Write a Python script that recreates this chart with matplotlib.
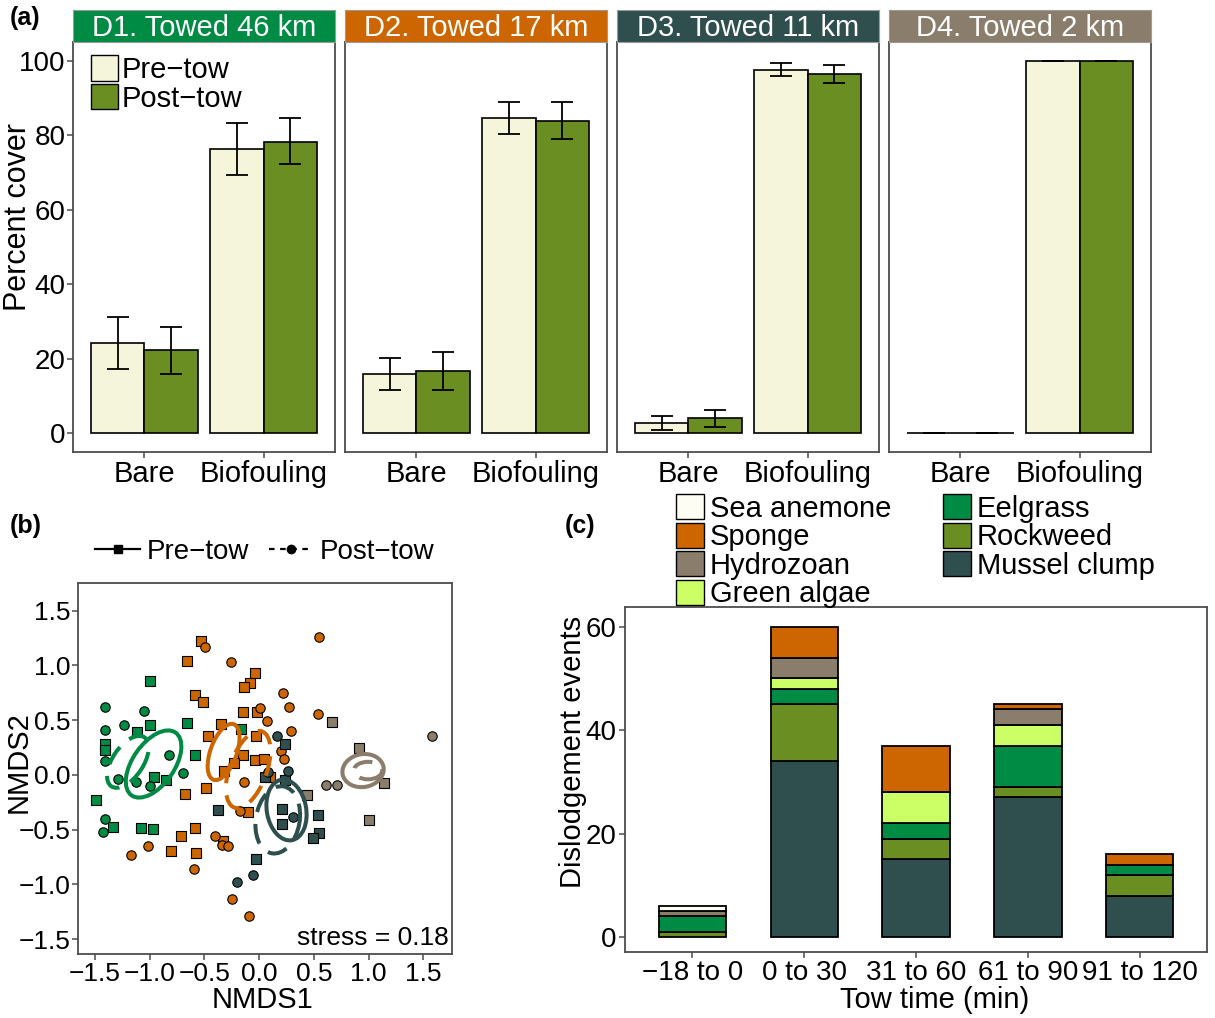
import numpy as np
import matplotlib
matplotlib.use("Agg")
import matplotlib.pyplot as plt
from matplotlib.patches import Ellipse, Patch
from matplotlib.lines import Line2D

plt.rcParams["font.family"] = ["Liberation Sans", "DejaVu Sans"]

W, H = 1215, 1018

# ---------------- (a) percent cover ----------------
sites = ["D1. Towed 46 km", "D2. Towed 17 km", "D3. Towed 11 km", "D4. Towed 2 km"]
site_cols = ["#008B45", "#CD6600", "#2F4F4F", "#8B7D6B"]
cover_cats = ["Bare", "Biofouling"]
pre_mean = [[24.3, 76.2], [16.0, 84.5], [2.7, 97.6], [0.0, 100.0]]
pre_lo = [[17.3, 69.3], [11.7, 80.3], [1.0, 96.0], [0.0, 100.0]]
pre_hi = [[31.3, 83.2], [20.3, 88.8], [4.6, 99.4], [0.0, 100.0]]
post_mean = [[22.3, 78.2], [16.7, 83.8], [4.1, 96.3], [0.0, 100.0]]
post_lo = [[16.0, 72.2], [11.7, 79.0], [1.8, 94.0], [0.0, 100.0]]
post_hi = [[28.5, 84.6], [21.7, 89.0], [6.3, 98.8], [0.0, 100.0]]

# ---------------- (b) NMDS ----------------
d1_pre_x = [-1.0, -1.12, -1.0, -0.66, -1.41, -1.41, -0.59, -0.96, -0.85, -1.49, -1.34, -1.08, -0.97, -0.17]
d1_pre_y = [0.855, 0.39, 0.455, 0.47, 0.28, 0.23, 0.18, -0.02, -0.05, -0.23, -0.475, -0.48, -0.49, 0.42]
d1_post_x = [-1.41, -1.05, -1.41, -1.24, -1.41, -0.82, -0.70, -1.29, -1.13, -0.997, -1.41, -1.43]
d1_post_y = [0.62, 0.585, 0.41, 0.455, 0.127, 0.185, 0.02, -0.04, -0.06, -0.10, -0.40, -0.525]
d2_pre_x = [-0.53, -0.66, -0.04, -0.08, -0.14, -0.585, -0.51, -0.15, -0.02, -0.35, -0.47, -0.025, -0.15,
            -0.04, 0.04, -0.23, -0.32, -0.675, -0.485, -0.10, -0.585, -0.71, -0.33, -0.81, -0.58, 0.095]
d2_pre_y = [1.227, 1.045, 0.93, 0.84, 0.80, 0.73, 0.67, 0.575, 0.575, 0.465, 0.357, 0.36, 0.18,
            0.136, 0.15, 0.106, 0.036, -0.17, -0.12, -0.34, -0.48, -0.56, -0.60, -0.69, -0.71, -0.015]
d2_post_x = [-0.495, -0.26, 0.55, 0.215, 0.27, 0.01, 0.535, 0.07, 0.295, 0.2, 0.23, -0.135, -0.175,
             -0.40, -0.34, -0.285, -1.02, -1.17, -0.60, -0.25, -0.09]
d2_post_y = [1.17, 1.03, 1.257, 0.75, 0.62, 0.615, 0.555, 0.49, 0.40, 0.22, 0.15, -0.066, -0.33,
             -0.555, -0.64, -0.65, -0.65, -0.73, -0.86, -1.135, -1.29]
d3_pre_x = [0.24, 0.05, 0.24, -0.38, 0.21, 0.21, 0.54, 0.55, 0.49, -0.03]
d3_pre_y = [0.28, -0.015, -0.045, -0.32, -0.31, -0.45, -0.37, -0.53, -0.58, -0.77]
d3_post_x = [0.165, 0.26, 0.31, 0.085, -0.20, -0.06]
d3_post_y = [0.355, 0.036, -0.385, 0.03, -0.98, -0.91]
d4_pre_x = [0.67, 0.915, 1.14, 0.435, 1.0]
d4_pre_y = [0.48, 0.25, -0.075, -0.18, -0.41]
d4_post_x = [1.58, 0.61, 0.715]
d4_post_y = [0.355, -0.09, -0.095]

# ellipse centres / axes / angles (site index, pre/post)
ell_site = [0, 0, 1, 1, 2, 2, 3, 3]
ell_dashed = [False, True, False, True, False, True, False, True]
ell_cx = [-0.965, -1.20, -0.325, -0.10, 0.25, 0.17, 0.95, 0.995]
ell_cy = [0.10, 0.12, 0.21, 0.05, -0.32, -0.41, 0.04, 0.04]
ell_w = [0.70, 0.54, 0.54, 0.74, 0.56, 0.62, 0.38, 0.26]
ell_h = [0.38, 0.28, 0.24, 0.34, 0.36, 0.40, 0.30, 0.16]
ell_ang = [55, 56, 70, 70, 100, 80, 10, 0]

# ---------------- (c) dislodgement ----------------
tow_bins = ["\u221218 to 0", "0 to 30", "31 to 60", "61 to 90", "91 to 120"]
taxa = ["Sea anemone", "Sponge", "Hydrozoan", "Green algae", "Eelgrass", "Rockweed", "Mussel clump"]
taxa_cols = ["#FDFDF3", "#CD6600", "#8B7D6B", "#CCFF66", "#008B45", "#6B8E23", "#2F4F4F"]
mussel = [0, 34, 15, 27, 8]
rockweed = [1, 11, 4, 2, 4]
eelgrass = [3, 3, 3, 8, 2]
green_algae = [0, 2, 6, 4, 0]
hydrozoan = [1, 4, 0, 3, 0]
sponge = [0, 6, 9, 1, 2]
sea_anemone = [1, 0, 0, 0, 0]

PRE_COL = "#F5F5DC"
POST_COL = "#6B8E23"
SPINE = "#4D4D4D"
FS = 21
TFS = 20


def px_axes(fig, x0, y0, x1, y1):
    return fig.add_axes([x0 / W, 1 - y1 / H, (x1 - x0) / W, (y1 - y0) / H])


def style_axes(ax, size=TFS):
    for s in ax.spines.values():
        s.set_color(SPINE)
        s.set_linewidth(1.3)
    ax.tick_params(colors=SPINE, labelcolor="black", length=4, width=1.1, labelsize=size, pad=2)


fig = plt.figure(figsize=(W / 100, H / 100), dpi=100)

# ---- panel (a)
lefts = [73, 345, 617, 889]
x = np.arange(len(cover_cats)) + 1
bw = 0.45
for i, site in enumerate(sites):
    ax = px_axes(fig, lefts[i], 42, lefts[i] + 262, 452)
    style_axes(ax)
    ax.tick_params(axis="y", pad=1.5)
    pm = np.array(pre_mean[i])
    qm = np.array(post_mean[i])
    ax.bar(x - bw / 2, pm, bw, color=PRE_COL, edgecolor="black", linewidth=1.2)
    ax.bar(x + bw / 2, qm, bw, color=POST_COL, edgecolor="black", linewidth=1.2)
    ax.errorbar(x - bw / 2, pm, yerr=[pm - np.array(pre_lo[i]), np.array(pre_hi[i]) - pm],
                fmt="none", ecolor="black", elinewidth=1.3, capsize=8, capthick=1.3)
    ax.errorbar(x + bw / 2, qm, yerr=[qm - np.array(post_lo[i]), np.array(post_hi[i]) - qm],
                fmt="none", ecolor="black", elinewidth=1.3, capsize=8, capthick=1.3)
    ax.set_xlim(0.4, 2.6)
    ax.set_ylim(-5, 105)
    ax.set_xticks(x)
    ax.set_xticklabels(cover_cats, fontsize=FS)
    ax.set_yticks([0, 20, 40, 60, 80, 100])
    if i > 0:
        ax.tick_params(axis="y", left=False, labelleft=False)
    # strip
    st = px_axes(fig, lefts[i], 10, lefts[i] + 262, 42)
    st.set_facecolor(site_cols[i])
    st.set_xticks([])
    st.set_yticks([])
    for s in st.spines.values():
        s.set_color("#9a9a9a")
        s.set_linewidth(0.8)
    st.text(0.5, 0.45, site, color="white", fontsize=FS, ha="center", va="center",
            transform=st.transAxes)
    if i == 0:
        ax.legend(handles=[Patch(facecolor=PRE_COL, edgecolor="black", label="Pre\u2212tow"),
                           Patch(facecolor=POST_COL, edgecolor="black", label="Post\u2212tow")],
                  loc="upper left", bbox_to_anchor=(0.0, 1.01), frameon=False, fontsize=FS,
                  handlelength=0.95, handleheight=0.95, handletextpad=0.1, labelspacing=0.0,
                  borderaxespad=0.2)

fig.text(18 / W, 1 - 217 / H, "Percent cover", rotation=90, fontsize=22, ha="center", va="center")
fig.text(10 / W, 1 - 18 / H, "(a)", fontsize=18, fontweight="bold", ha="left", va="center")

# ---- panel (b)
axb = px_axes(fig, 78, 583, 452, 954)
style_axes(axb, 19)
groups = [(d1_pre_x, d1_pre_y, d1_post_x, d1_post_y), (d2_pre_x, d2_pre_y, d2_post_x, d2_post_y),
          (d3_pre_x, d3_pre_y, d3_post_x, d3_post_y), (d4_pre_x, d4_pre_y, d4_post_x, d4_post_y)]
for i, (px_, py_, qx_, qy_) in enumerate(groups):
    axb.scatter(px_, py_, marker="s", s=42, c=site_cols[i], edgecolors="black", linewidths=0.8, zorder=3)
    axb.scatter(qx_, qy_, marker="o", s=46, c=site_cols[i], edgecolors="black", linewidths=0.8, zorder=3)
for k in range(len(ell_cx)):
    e = Ellipse((ell_cx[k], ell_cy[k]), ell_w[k], ell_h[k], angle=ell_ang[k], fill=False,
                edgecolor=site_cols[ell_site[k]], linewidth=2.9, zorder=4,
                linestyle=(0, (5, 3)) if ell_dashed[k] else "-")
    axb.add_patch(e)
axb.set_xlim(-1.656, 1.763)
axb.set_ylim(-1.635, 1.753)
ticks_b = [-1.5, -1.0, -0.5, 0.0, 0.5, 1.0, 1.5]
tick_lab_b = ["%.1f" % t if t >= 0 else "\u2212%.1f" % -t for t in ticks_b]
axb.set_xticks(ticks_b)
axb.set_yticks(ticks_b)
axb.set_xticklabels(tick_lab_b)
axb.set_yticklabels(tick_lab_b)
axb.tick_params(axis="y", pad=1.5)
axb.text(0.99, 0.012, "stress = 0.18", transform=axb.transAxes, ha="right", va="bottom", fontsize=19)
fig.text(19 / W, 1 - 762 / H, "NMDS2", rotation=90, fontsize=FS, ha="center", va="center")
fig.text(262 / W, 1 - 1000 / H, "NMDS1", fontsize=FS, ha="center", va="center")
fig.text(10 / W, 1 - 526 / H, "(b)", fontsize=18, fontweight="bold", ha="left", va="center")
fig.legend(handles=[Line2D([], [], color="black", lw=1.6, marker="s", markersize=6, label="Pre\u2212tow"),
                    Line2D([], [], color="black", lw=1.6, ls=(0, (2.5, 2.5)), marker="o", markersize=6,
                           label="Post\u2212tow")],
           loc="center", bbox_to_anchor=(265 / W, 1 - 552 / H), ncol=2, frameon=False, fontsize=20,
           handlelength=1.6, handletextpad=0.25, columnspacing=0.7)

# ---- panel (c)
axc = px_axes(fig, 625, 607, 1207, 952)
style_axes(axc)
xc = np.arange(len(tow_bins)) + 1
layers = [mussel, rockweed, eelgrass, green_algae, hydrozoan, sponge, sea_anemone]
layer_cols = taxa_cols[::-1]
bottom = np.zeros(len(tow_bins))
for vals, col in zip(layers, layer_cols):
    vals = np.array(vals, dtype=float)
    mask = vals > 0
    axc.bar(xc[mask], vals[mask], 0.6, bottom=bottom[mask], color=col, edgecolor="black", linewidth=1.3)
    bottom += vals
axc.set_xlim(0.4, 5.6)
axc.set_ylim(-2.9, 63.8)
axc.set_xticks(xc)
axc.set_xticklabels(tow_bins, fontsize=20)
axc.set_yticks([0, 20, 40, 60])
fig.text(573 / W, 1 - 752 / H, "Dislodgement events", rotation=90, fontsize=FS, ha="center", va="center")
fig.text(935 / W, 1 - 1000 / H, "Tow time (min)", fontsize=FS, ha="center", va="center")
fig.text(565 / W, 1 - 526 / H, "(c)", fontsize=18, fontweight="bold", ha="left", va="center")
fig.legend(handles=[Patch(facecolor=c, edgecolor="black", label=t) for t, c in zip(taxa, taxa_cols)],
           loc="upper left", bbox_to_anchor=(676 / W, 1 - 494 / H), ncol=2, frameon=False, fontsize=FS,
           handlelength=0.95, handleheight=0.95, handletextpad=0.2, labelspacing=0.0,
           columnspacing=1.8, borderaxespad=0, borderpad=0)

fig.savefig("out.png", dpi=100)
